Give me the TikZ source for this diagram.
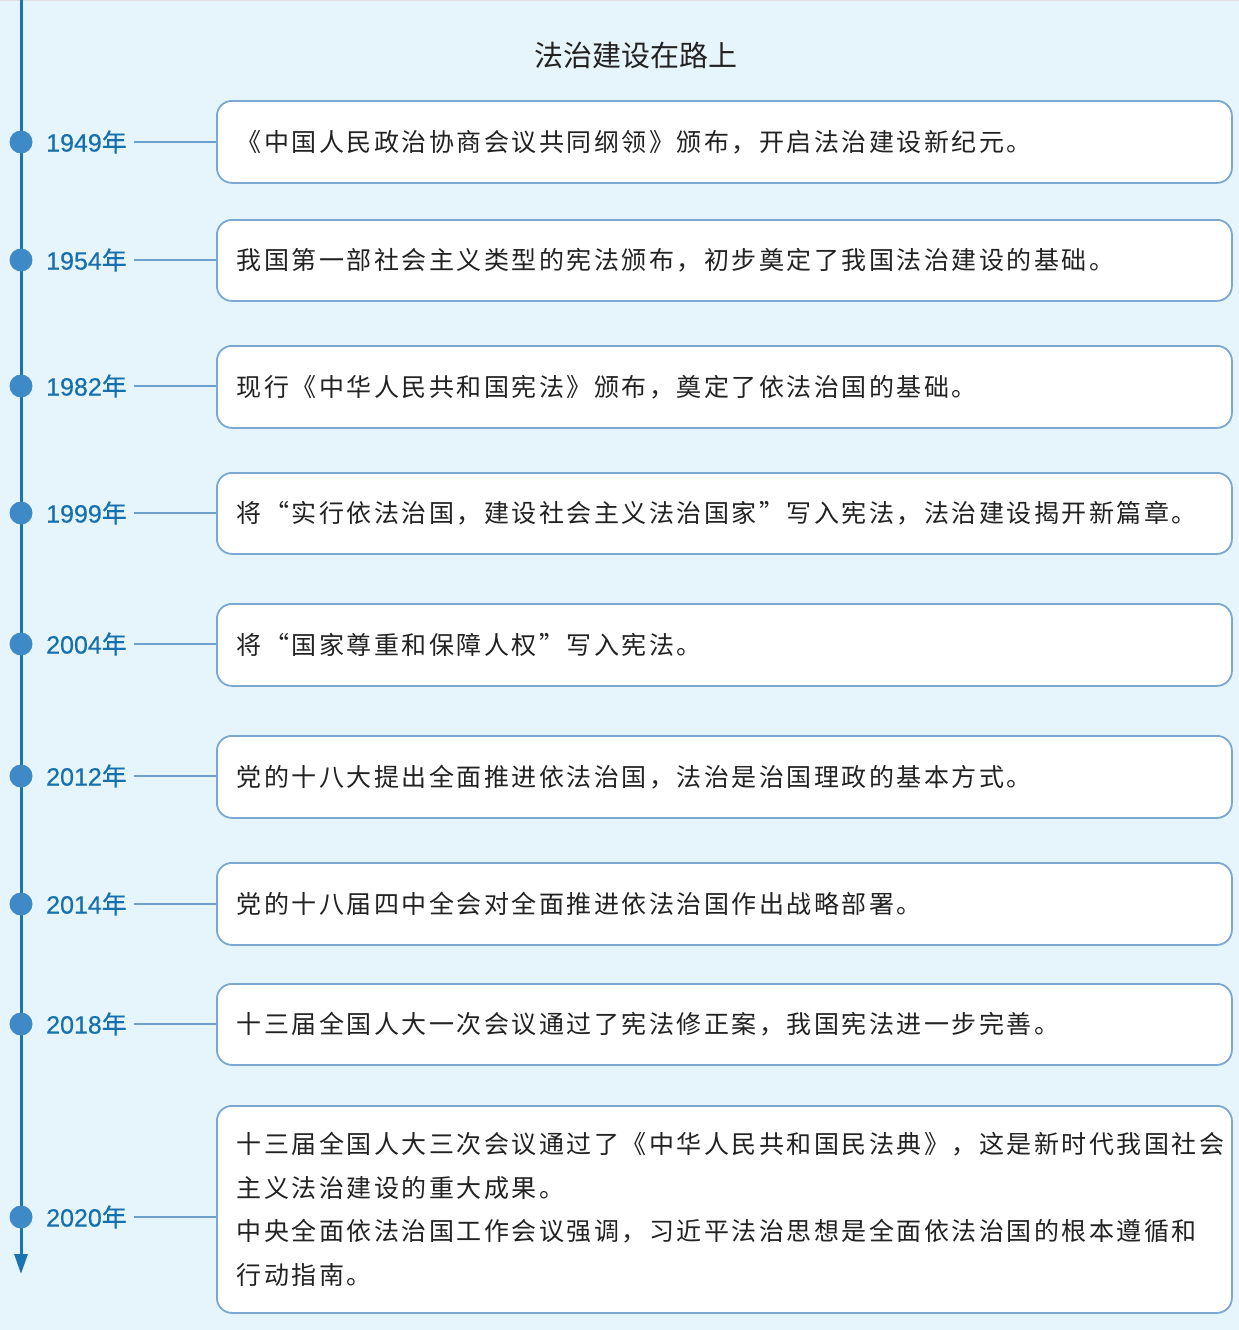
\documentclass[tikz,border=0pt]{standalone}
\usepackage{fontspec}
\setmainfont{Liberation Sans}
\newfontfamily\yearfont[FakeBold=0.5]{Liberation Sans}
\newfontfamily\cjk{Noto Sans CJK SC}
\newfontfamily\cjkyear[FakeBold=0.4]{Noto Sans CJK SC}
\newfontfamily\cjkbody[LetterSpace=10]{Noto Sans CJK SC}
\usetikzlibrary{arrows.meta}
\definecolor{bgblue}{HTML}{E6F4FC}
\definecolor{axisblue}{HTML}{1A73B3}
\definecolor{dotblue}{HTML}{3D8AC6}
\definecolor{yearblue}{HTML}{1670AE}
\definecolor{connblue}{HTML}{6FA0CC}
\definecolor{boxline}{HTML}{7BA7D0}
\definecolor{txt}{HTML}{222222}
\tikzset{
  yearlbl/.style={anchor=west, inner sep=0pt, text=yearblue, font=\yearfont\fontsize{25}{25}\selectfont},
  dotnode/.style={circle, fill=dotblue, minimum size=23pt, inner sep=0pt},
  conn/.style={draw=connblue, line width=1.5pt, shorten <=7pt},
  evbox/.style={draw=boxline, line width=1.8pt, fill=white, rounded corners=15pt,
    anchor=north west, text width=975pt, inner xsep=20pt, inner ysep=0pt, align=left,
    text=txt, font=\cjkbody\fontsize{25}{43.5}\selectfont},
}
\begin{document}
\begin{tikzpicture}[x=1pt,y=-1pt]
\fill[bgblue] (0,0) rectangle (1239,1330);
\useasboundingbox (0,0) rectangle (1239,1330);
\draw[draw=black!12, line width=1pt] (0,0.5) -- (1239,0.5);
\coordinate (axtop) at (21,0);
\coordinate (axend) at (21,1274);
\draw[axisblue, line width=3pt, -{Triangle[length=20pt,width=13pt]}] (axtop) -- (axend);
\node[text=txt, font=\cjk\fontsize{29}{29}\selectfont] (title) at (636,56) {法治建设在路上};

% boxes
\node[evbox, minimum height=82pt] (b1) at (216,100) {《中国人民政治协商会议共同纲领》颁布，开启法治建设新纪元。};
\node[evbox, minimum height=81pt] (b2) at (216,219) {我国第一部社会主义类型的宪法颁布，初步奠定了我国法治建设的基础。};
\node[evbox, minimum height=82pt] (b3) at (216,345) {现行《中华人民共和国宪法》颁布，奠定了依法治国的基础。};
\node[evbox, minimum height=81pt] (b4) at (216,472) {将“实行依法治国，建设社会主义法治国家”写入宪法，法治建设揭开新篇章。};
\node[evbox, minimum height=82pt] (b5) at (216,603) {将“国家尊重和保障人权”写入宪法。};
\node[evbox, minimum height=82pt] (b6) at (216,735) {党的十八大提出全面推进依法治国，法治是治国理政的基本方式。};
\node[evbox, minimum height=82pt] (b7) at (216,862) {党的十八届四中全会对全面推进依法治国作出战略部署。};
\node[evbox, minimum height=81pt] (b8) at (216,983) {十三届全国人大一次会议通过了宪法修正案，我国宪法进一步完善。};
\node[evbox, minimum height=207pt] (b9) at (216,1105) {十三届全国人大三次会议通过了《中华人民共和国民法典》，这是新时代我国社会\\主义法治建设的重大成果。\\中央全面依法治国工作会议强调，习近平法治思想是全面依法治国的根本遵循和\\行动指南。};

% dots, years, connectors
\foreach \i/\yy/\yr in {1/142/1949,2/260/1954,3/386/1982,4/513/1999,5/644/2004,6/776/2012,7/904/2014,8/1024/2018,9/1217/2020}{
  \node[dotnode] (d\i) at (21,\yy) {};
  \node[yearlbl] (y\i) at (46,\yy) {\yr{\cjkyear 年}};
  \draw[conn] (y\i.east) -- (y\i.east -| b\i.west);
}
\end{tikzpicture}
\end{document}
